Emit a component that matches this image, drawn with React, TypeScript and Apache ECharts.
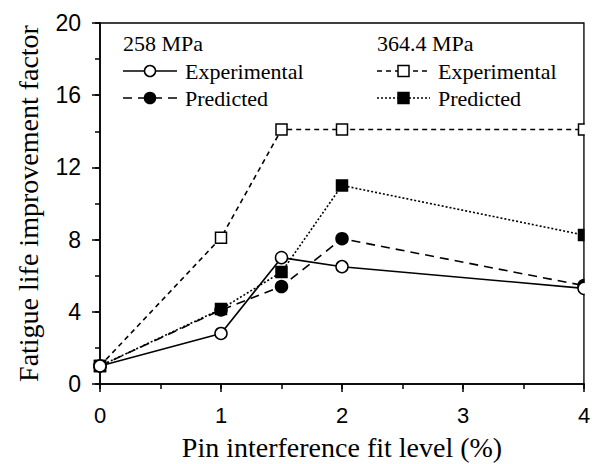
import React, { useEffect, useRef } from "react";
import * as echarts from "echarts";

const fitLevels = [0, 1, 1.5, 2, 4];
const exp258 = [1, 2.8, 7.0, 6.5, 5.3];
const pred258 = [1, 4.1, 5.4, 8.05, 5.45];
const exp364 = [1, 8.1, 14.1, 14.1, 14.1];
const pred364 = [1, 4.15, 6.2, 11.0, 8.25];

const xTicks = [0, 1, 2, 3, 4];
const yTicks = [0, 4, 8, 12, 16, 20];

const SERIF = "Liberation Serif";
const SANS = "Liberation Sans";

function pairs(vals: number[]) {
  return fitLevels.map((x, i) => [x, vals[i]]);
}

export default function App() {
  const ref = useRef<HTMLDivElement>(null);
  useEffect(() => {
    if (!ref.current) return;
    const chart = echarts.init(ref.current, undefined, { renderer: "svg" });
    const black = "#000";
    const lw = 1.6;
    const mk = (
      name: string,
      vals: number[],
      type: any,
      symbol: string,
      filled: boolean,
      size: number
    ) => ({
      name,
      type: "line",
      data: pairs(vals),
      symbol,
      symbolSize: size,
      showAllSymbol: true,
      clip: false,
      xAxisIndex: 0,
      yAxisIndex: 0,
      lineStyle: { color: black, width: lw, type },
      itemStyle: {
        color: filled ? black : "#fff",
        borderColor: black,
        borderWidth: 1.5,
      },
      z: filled ? 3 : 4,
    });

    const legendRow = (
      x0: number,
      x1: number,
      y: number,
      dash: number[] | null,
      sym: "circle" | "rect",
      filled: boolean,
      label: string
    ) => {
      const cx = (x0 + x1) / 2;
      const els: any[] = [
        {
          type: "line",
          shape: { x1: x0, y1: y, x2: x1, y2: y },
          style: { stroke: black, lineWidth: lw, lineDash: dash || undefined },
        },
      ];
      if (sym === "circle") {
        els.push({
          type: "circle",
          shape: { cx, cy: y, r: 5.5 },
          style: { fill: filled ? black : "#fff", stroke: black, lineWidth: 1.5 },
        });
      } else {
        els.push({
          type: "rect",
          shape: { x: cx - 5.5, y: y - 5.5, width: 11, height: 11 },
          style: { fill: filled ? black : "#fff", stroke: black, lineWidth: 1.5 },
        });
      }
      els.push({
        type: "text",
        x: x1 + 8,
        y,
        style: {
          text: label,
          fontFamily: SERIF,
          fontSize: 22,
          fill: black,
          verticalAlign: "middle",
          align: "left",
        },
      });
      return els;
    };

    const gridBox = { left: 100, right: 13, top: 23, bottom: 80, outerBoundsMode: "none", containLabel: false };

    const option: any = {
      animation: false,
      backgroundColor: "#fff",
      grid: [
        {
          ...gridBox,
          show: true,
          borderColor: black,
          borderWidth: 1.5,
          backgroundColor: "transparent",
        },
        { ...gridBox },
      ],
      xAxis: [
        {
          type: "value",
          gridIndex: 0,
          min: 0,
          max: 4,
          interval: 1,
          name: "Pin interference fit level (%)",
          nameLocation: "middle",
          nameGap: 49,
          nameTextStyle: { fontFamily: SERIF, fontSize: 28, color: black },
          splitLine: { show: false },
          axisLine: { show: true, onZero: false, lineStyle: { color: black, width: 1.5 } },
          axisTick: { show: true, length: 8, lineStyle: { color: black, width: 1.5 } },
          axisLabel: {
            fontFamily: SANS,
            fontSize: 22,
            color: black,
            margin: 20,
            formatter: (v: number) => (xTicks.includes(v) ? String(v) : ""),
          },
        },
        {
          type: "value",
          gridIndex: 1,
          min: 0,
          max: 4,
          interval: 0.5,
          position: "bottom",
          splitLine: { show: false },
          axisLine: { show: false, onZero: false },
          axisTick: { show: true, length: 5, lineStyle: { color: black, width: 1.5 } },
          axisLabel: { show: false },
        },
      ],
      yAxis: [
        {
          type: "value",
          gridIndex: 0,
          min: 0,
          max: 20,
          interval: 4,
          name: "Fatigue life improvement factor",
          nameLocation: "middle",
          nameGap: 58,
          nameTextStyle: { fontFamily: SERIF, fontSize: 28, color: black },
          splitLine: { show: false },
          axisLine: { show: true, onZero: false, lineStyle: { color: black, width: 1.5 } },
          axisTick: { show: true, length: 8, lineStyle: { color: black, width: 1.5 } },
          axisLabel: {
            fontFamily: SANS,
            fontSize: 23,
            color: black,
            margin: 19,
            formatter: (v: number) => (yTicks.includes(v) ? String(v) : ""),
          },
        },
        {
          type: "value",
          gridIndex: 1,
          min: 0,
          max: 20,
          interval: 2,
          position: "left",
          splitLine: { show: false },
          axisLine: { show: false, onZero: false },
          axisTick: { show: true, length: 5, lineStyle: { color: black, width: 1.5 } },
          axisLabel: { show: false },
        },
      ],
      series: [
        mk("258 Predicted", pred258, [9, 6], "circle", true, 12),
        mk("364.4 Predicted", pred364, [2, 2], "rect", true, 11),
        mk("364.4 Experimental", exp364, [5, 4], "rect", false, 11),
        mk("258 Experimental", exp258, "solid", "circle", false, 12),
        {
          type: "line",
          xAxisIndex: 1,
          yAxisIndex: 1,
          data: [],
          silent: true,
        },
      ],
      graphic: [
        {
          type: "rect",
          shape: { x: 584.8, y: 0, width: 20, height: 383 },
          style: { fill: "#fff" },
          z: 100,
        },
        {
          type: "text",
          x: 123,
          y: 43,
          style: { text: "258 MPa", fontFamily: SERIF, fontSize: 22, fill: black, verticalAlign: "middle" },
        },
        {
          type: "text",
          x: 377,
          y: 43,
          style: { text: "364.4 MPa", fontFamily: SERIF, fontSize: 22, fill: black, verticalAlign: "middle" },
        },
        ...legendRow(123, 177, 71, null, "circle", false, "Experimental"),
        ...legendRow(123, 177, 98, [9, 6], "circle", true, "Predicted"),
        ...legendRow(377, 430, 71, [5, 4], "rect", false, "Experimental"),
        ...legendRow(377, 430, 98, [2, 2], "rect", true, "Predicted"),
      ],
    };
    chart.setOption(option);
    return () => chart.dispose();
  }, []);
  return <div ref={ref} style={{ width: 597, height: 464, position: "fixed", left: 0, top: 0 }} />;
}
